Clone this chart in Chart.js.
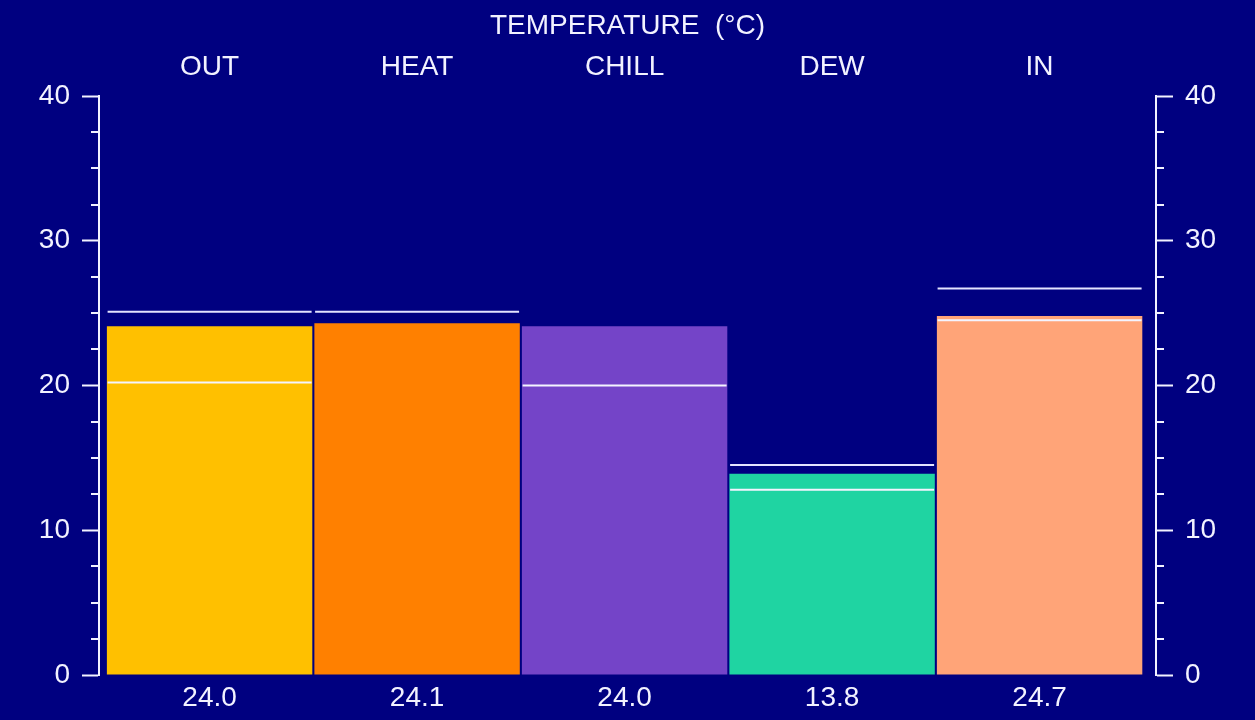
<!DOCTYPE html>
<html>
<head>
<meta charset="utf-8">
<script src="https://cdn.jsdelivr.net/npm/chart.js@4"></script>
<style>
  html, body { margin: 0; padding: 0; background: #000080; }
  canvas { display: block; }
</style>
</head>
<body>
<canvas id="temp-chart" width="1255" height="720"></canvas>
<script>
// Datos
const categories = ['OUT', 'HEAT', 'CHILL', 'DEW', 'IN'];
const currentTemps = [24.1, 24.3, 24.1, 13.9, 24.8];
const valueLabels = ['24.0', '24.1', '24.0', '13.8', '24.7'];
const maxTemps = [25.1, 25.1, null, 14.5, 26.7];
const minTemps = [20.2, null, 20.0, 12.8, 24.5];
const yTicks = [0, 10, 20, 30, 40];
const barColors = ['#ffc000', '#ff8000', '#7444c8', '#1fd4a2', '#ffa478'];

const WHITE = '#f2f2ff';
const FONT = { family: 'Liberation Sans', size: 28, weight: 'normal' };

// Marcas menores del eje (cada 2.5)
const minorTicks = {
  id: 'minorTicks',
  afterDraw(chart) {
    const ctx = chart.ctx;
    ['y', 'y2'].forEach(id => {
      const s = chart.scales[id];
      const left = s.position === 'left';
      const x0 = left ? s.right : s.left;
      ctx.save();
      ctx.strokeStyle = WHITE;
      ctx.lineWidth = 2;
      s.ticks.forEach(t => {
        if (yTicks.includes(t.value)) return;
        const y = Math.round(s.getPixelForValue(t.value));
        ctx.beginPath();
        ctx.moveTo(x0, y);
        ctx.lineTo(left ? x0 - 8 : x0 + 8, y);
        ctx.stroke();
      });
      ctx.restore();
    });
  }
};

function yAxis(position) {
  return {
    position,
    min: 0,
    max: 40,
    ticks: {
      stepSize: 2.5,
      autoSkip: false,
      color: WHITE,
      font: FONT,
      padding: 12,
      callback: v => yTicks.includes(v) ? String(v) : ''
    },
    grid: {
      drawOnChartArea: false,
      tickLength: 17,
      tickWidth: 2,
      tickColor: c => yTicks.includes(c.tick.value) ? WHITE : 'transparent'
    },
    border: { color: WHITE, width: 2 },
    afterFit: s => { s.width = 99; }
  };
}

function xAxis(position, labels, padding, height) {
  return {
    type: 'linear',
    position,
    min: -0.533,
    max: 4.561,
    offset: false,
    afterBuildTicks: s => { s.ticks = categories.map((c, i) => ({ value: i })); },
    ticks: {
      autoSkip: false,
      maxRotation: 0,
      color: WHITE,
      font: FONT,
      padding,
      callback: (v, i) => labels[i]
    },
    grid: { display: false, drawTicks: false, offset: false },
    border: { display: false },
    afterFit: s => { s.height = height; }
  };
}

new Chart(document.getElementById('temp-chart'), {
  type: 'bar',
  data: {
    datasets: [
      {
        type: 'line',
        label: 'max',
        data: maxTemps.map((v, i) => ({ x: i, y: v })),
        showLine: false,
        pointStyle: 'line',
        pointRadius: 102,
        pointBorderWidth: 2,
        pointBorderColor: '#e4e4ff',
        order: 0
      },
      {
        type: 'line',
        label: 'min',
        data: minTemps.map((v, i) => ({ x: i, y: v })),
        showLine: false,
        pointStyle: 'line',
        pointRadius: 102,
        pointBorderWidth: 2,
        pointBorderColor: '#f4f4ff',
        order: 0
      },
      {
        label: 'actual',
        data: currentTemps.map((v, i) => ({ x: i, y: v })),
        backgroundColor: barColors,
        borderWidth: 0,
        barPercentage: 0.99,
        categoryPercentage: 1,
        order: 1
      }
    ]
  },
  options: {
    responsive: false,
    animation: false,
    events: [],
    layout: { padding: 0, autoPadding: false },
    plugins: {
      legend: { display: false },
      tooltip: { enabled: false },
      title: {
        display: true,
        text: 'TEMPERATURE  (°C)',
        color: WHITE,
        font: FONT,
        padding: { top: 9, bottom: 0 }
      }
    },
    scales: {
      x: xAxis('bottom', valueLabels, 6, 45),
      xTop: xAxis('top', categories, 12, 53.4),
      y: yAxis('left'),
      y2: yAxis('right')
    }
  },
  plugins: [minorTicks]
});
</script>
</body>
</html>
